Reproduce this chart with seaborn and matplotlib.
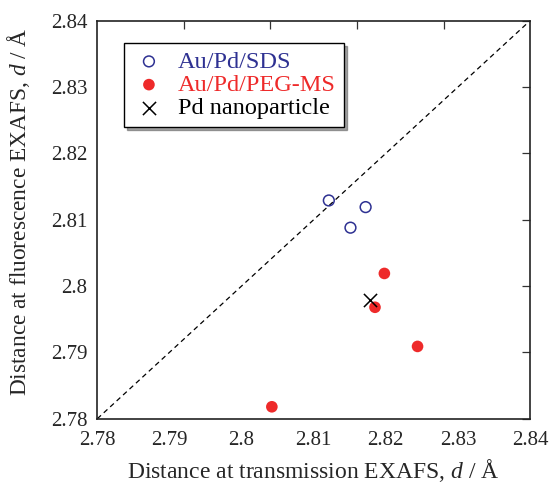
import numpy as np
import pandas as pd
import matplotlib
matplotlib.use("Agg")
import matplotlib.pyplot as plt
import seaborn as sns
from matplotlib.ticker import FuncFormatter

# data
sds_x = [2.8121, 2.8172, 2.8151]
sds_y = [2.8129, 2.8119, 2.8088]
peg_x = [2.8198, 2.8185, 2.8244, 2.8042]
peg_y = [2.8019, 2.7968, 2.7909, 2.7818]
pd_x = [2.8178]
pd_y = [2.7979]
ticks = [2.78, 2.79, 2.80, 2.81, 2.82, 2.83, 2.84]
top_ticks = [2.792, 2.804, 2.816, 2.828]

sns.set_style("white")
serif = ['Liberation Serif', 'DejaVu Serif']
plt.rcParams['font.family'] = serif
plt.rcParams['mathtext.fontset'] = 'custom'
plt.rcParams['mathtext.rm'] = 'Liberation Serif'
plt.rcParams['mathtext.it'] = 'Liberation Serif:italic'

blue = '#2e3192'
red = '#ee2a2a'

fig = plt.figure(figsize=(5.51, 4.87), dpi=100)
ax = fig.add_axes([0.1766, 0.1402, 0.962 - 0.1766, 0.9575 - 0.1402])

# y = x reference line
ax.plot([2.78, 2.84], [2.78, 2.84], ls=(0, (4, 3)), color='black', lw=0.9, zorder=1)

sds = pd.DataFrame({'x': sds_x, 'y': sds_y})
peg = pd.DataFrame({'x': peg_x, 'y': peg_y})
pdn = pd.DataFrame({'x': pd_x, 'y': pd_y})

sns.scatterplot(data=sds, x='x', y='y', ax=ax, marker='o', s=60,
                facecolor='none', edgecolor=blue, linewidth=1.1, label='Au/Pd/SDS', zorder=3)
sns.scatterplot(data=peg, x='x', y='y', ax=ax, marker='o', s=70,
                color=red, edgecolor='none', label='Au/Pd/PEG-MS', zorder=3)
sns.scatterplot(data=pdn, x='x', y='y', ax=ax, marker='x', s=90,
                color='black', linewidth=1.1, label='Pd nanoparticle', zorder=4)

ax.set_xlim(2.78, 2.84)
ax.set_ylim(2.78, 2.84)
ax.set_xticks(ticks)
ax.set_yticks(ticks)
fmt = FuncFormatter(lambda v, p: f"{v:g}")
ax.xaxis.set_major_formatter(fmt)
ax.yaxis.set_major_formatter(fmt)
ax.tick_params(direction='in', length=6, width=0.9, labelsize=15, right=True,
               color='#333333')
ax.tick_params(axis='x', pad=9)
ax.tick_params(axis='y', pad=7)

# top axis has its own (5-division) ticks in the original
sec = ax.secondary_xaxis('top')
sec.set_xticks(top_ticks)
sec.tick_params(direction='in', length=6, width=0.9, labeltop=False, color='#333333')
for sp in ax.spines.values():
    sp.set_color('#222222')
    sp.set_linewidth(1.2)
sec.spines['top'].set_visible(False)

ax.set_xlabel('Distance at transmission EXAFS, $d$ / Å', fontsize=17, labelpad=5)
ax.set_ylabel('Distance at fluorescence EXAFS, $d$ / Å', fontsize=16.8)
ax.yaxis.set_label_coords(-0.152, 0.52)

leg = ax.legend(loc='upper left', bbox_to_anchor=(0.062, 0.944), borderaxespad=0,
                frameon=True, fancybox=False, shadow=True, fontsize=17.5,
                handletextpad=0.5, borderpad=0.32, labelspacing=0.05, handlelength=1.4)
leg.get_frame().set_edgecolor('black')
leg.get_frame().set_linewidth(1.0)
for txt, c in zip(leg.get_texts(), [blue, red, 'black']):
    txt.set_color(c)

fig.savefig('out.png', dpi=100)
